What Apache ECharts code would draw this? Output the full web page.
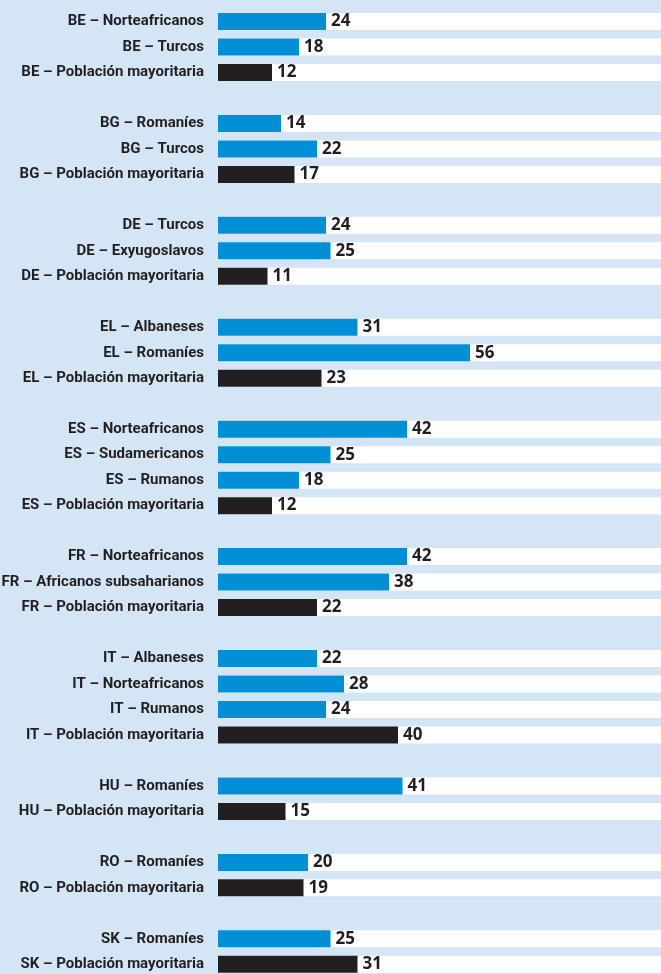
<!DOCTYPE html>
<html lang="es" style="width: 100%; height: 100%">
<head>
  <meta charset="utf-8">
</head>
<body style="margin: 0; width: 661px; height: 974px; background: #d4e6f5">
  <div id="container" style="width: 661px; height: 974px"></div>

  <script type="text/javascript" src="https://cdn.jsdelivr.net/npm/echarts@6/dist/echarts.min.js"></script>
  <script type="text/javascript">

// filas del gráfico, '' = hueco entre países
var categorias = [
  'BE – Norteafricanos', 'BE – Turcos', 'BE – Población mayoritaria', '',
  'BG – Romaníes', 'BG – Turcos', 'BG – Población mayoritaria', '',
  'DE – Turcos', 'DE – Exyugoslavos', 'DE – Población mayoritaria', '',
  'EL – Albaneses', 'EL – Romaníes', 'EL – Población mayoritaria', '',
  'ES – Norteafricanos', 'ES – Sudamericanos', 'ES – Rumanos', 'ES – Población mayoritaria', '',
  'FR – Norteafricanos', 'FR – Africanos subsaharianos', 'FR – Población mayoritaria', '',
  'IT – Albaneses', 'IT – Norteafricanos', 'IT – Rumanos', 'IT – Población mayoritaria', '',
  'HU – Romaníes', 'HU – Población mayoritaria', '',
  'RO – Romaníes', 'RO – Población mayoritaria', '',
  'SK – Romaníes', 'SK – Población mayoritaria'
];

var valores = [
  24, 18, 12, '-',
  14, 22, 17, '-',
  24, 25, 11, '-',
  31, 56, 23, '-',
  42, 25, 18, 12, '-',
  42, 38, 22, '-',
  22, 28, 24, 40, '-',
  41, 15, '-',
  20, 19, '-',
  25, 31
];

var ejeMax = 100;

var dom = document.getElementById('container');
var myChart = echarts.init(dom, null, { renderer: 'canvas' });

var fondo = categorias.map(function (c) { return c ? ejeMax : '-'; });
var barras = valores.map(function (v, i) {
  var mayoria = categorias[i].indexOf('Población mayoritaria') >= 0;
  return {
    value: v,
    itemStyle: { color: mayoria ? '#231f20' : '#008fd5' }
  };
});

var option = {
  backgroundColor: '#d4e6f5',
  animation: false,
  grid: {
    left: 218,
    top: 8.76,
    width: 450,
    height: 968.3,
    containLabel: false,
    outerBoundsMode: 'none'
  },
  xAxis: {
    type: 'value',
    min: 0,
    max: ejeMax,
    show: false
  },
  yAxis: {
    type: 'category',
    inverse: true,
    data: categorias,
    axisLine: { show: false },
    axisTick: { show: false },
    splitLine: { show: false },
    axisLabel: {
      margin: 14,
      color: '#231f20',
      fontFamily: 'Roboto, sans-serif',
      fontWeight: 'bold',
      fontSize: 15
    }
  },
  series: [
    {
      name: 'fondo',
      type: 'bar',
      data: fondo,
      barWidth: 17,
      barGap: '-100%',
      silent: true,
      itemStyle: { color: '#ffffff' }
    },
    {
      name: 'valor',
      type: 'bar',
      data: barras,
      barWidth: 17,
      label: {
        show: true,
        position: 'right',
        distance: 5,
        color: '#231f20',
        fontFamily: '"Noto Sans", sans-serif',
        fontWeight: 'bold',
        fontSize: 17
      }
    }
  ]
};

myChart.setOption(option);

  </script>
</body>
</html>
